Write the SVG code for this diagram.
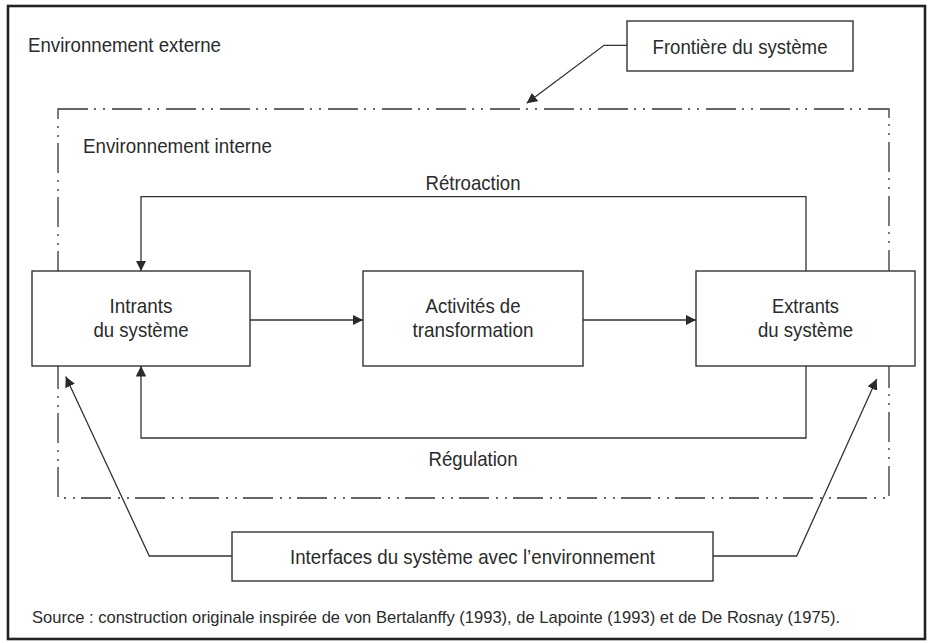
<svg xmlns="http://www.w3.org/2000/svg" width="929" height="643" viewBox="0 0 929 643">
  <defs>
    <marker id="arrow" viewBox="0 0 10 10" refX="10" refY="5" markerWidth="10.5" markerHeight="10.5" markerUnits="userSpaceOnUse" orient="auto">
      <path d="M0,0 L10,5 L0,10 Z" fill="#2a2a2a"/>
    </marker>
  </defs>
  <style>
    .lbl{font-family:"Liberation Sans Narrow","Liberation Sans",Arial,sans-serif;font-size:21px;fill:#2b2b2b}
    .mid{text-anchor:middle}
    .src{font-size:17px}
    .box{fill:#fff;stroke:#333;stroke-width:1.4}
    .wire{fill:none;stroke:#333;stroke-width:1.3}
    .boundary{fill:none;stroke:#333;stroke-width:1.3;stroke-dasharray:30 6 2 7 2 7}
    .frame{fill:none;stroke:#222;stroke-width:2.6}
  </style>

  <!-- outer frame -->
  <rect class="frame" x="8" y="6" width="917" height="633"/>

  <!-- external environment label -->
  <text class="lbl" x="28" y="52" textLength="193" lengthAdjust="spacingAndGlyphs">Environnement externe</text>

  <!-- system boundary (dash-dot) -->
  <rect id="boundary" class="boundary" x="58" y="109" width="831" height="389"/>
  <text class="lbl" x="83" y="152.5" textLength="189" lengthAdjust="spacingAndGlyphs">Environnement interne</text>

  <!-- connectors -->
  <g id="connectors">
    <polyline class="wire" points="627,45.3 604,45.3 526.7,103.3" marker-end="url(#arrow)"/>
    <polyline class="wire" points="806,271 806,196.7 141,196.7 141,271" marker-end="url(#arrow)"/>
    <polyline class="wire" points="806,366 806,438 141,438 141,366" marker-end="url(#arrow)"/>
    <line class="wire" x1="250" y1="320" x2="363" y2="320" marker-end="url(#arrow)"/>
    <line class="wire" x1="583" y1="320" x2="696" y2="320" marker-end="url(#arrow)"/>
    <polyline class="wire" points="232,556 149.3,556 65.7,376.5" marker-end="url(#arrow)"/>
    <polyline class="wire" points="713,556 796.7,556 876.7,379" marker-end="url(#arrow)"/>
  </g>

  <!-- loop labels -->
  <text class="lbl mid" x="473" y="190" textLength="95" lengthAdjust="spacingAndGlyphs">Rétroaction</text>
  <text class="lbl mid" x="473" y="466" textLength="89" lengthAdjust="spacingAndGlyphs">Régulation</text>

  <!-- nodes -->
  <g id="frontiere">
    <rect class="box" x="627" y="21" width="226" height="50"/>
    <text class="lbl mid" x="740" y="53.5" textLength="175" lengthAdjust="spacingAndGlyphs">Frontière du système</text>
  </g>

  <g id="intrants">
    <rect class="box" x="32" y="271" width="218" height="95"/>
    <text class="lbl mid" x="141" y="312.7" textLength="63" lengthAdjust="spacingAndGlyphs">Intrants</text>
    <text class="lbl mid" x="141" y="336.7" textLength="95" lengthAdjust="spacingAndGlyphs">du système</text>
  </g>

  <g id="activites">
    <rect class="box" x="363" y="271" width="220" height="95"/>
    <text class="lbl mid" x="473" y="312.7" textLength="95" lengthAdjust="spacingAndGlyphs">Activités de</text>
    <text class="lbl mid" x="473" y="336.7" textLength="121" lengthAdjust="spacingAndGlyphs">transformation</text>
  </g>

  <g id="extrants">
    <rect class="box" x="696" y="271" width="219" height="95"/>
    <text class="lbl mid" x="805.5" y="312.7" textLength="67" lengthAdjust="spacingAndGlyphs">Extrants</text>
    <text class="lbl mid" x="805.5" y="336.7" textLength="95" lengthAdjust="spacingAndGlyphs">du système</text>
  </g>

  <g id="interfaces">
    <rect class="box" x="232" y="532" width="481" height="49"/>
    <text class="lbl mid" x="472.5" y="563.5" textLength="365" lengthAdjust="spacingAndGlyphs">Interfaces du système avec l’environnement</text>
  </g>

  <!-- source note -->
  <text class="lbl src" x="32" y="623" textLength="808" lengthAdjust="spacingAndGlyphs">Source : construction originale inspirée de von Bertalanffy (1993), de Lapointe (1993) et de De Rosnay (1975).</text>
</svg>
